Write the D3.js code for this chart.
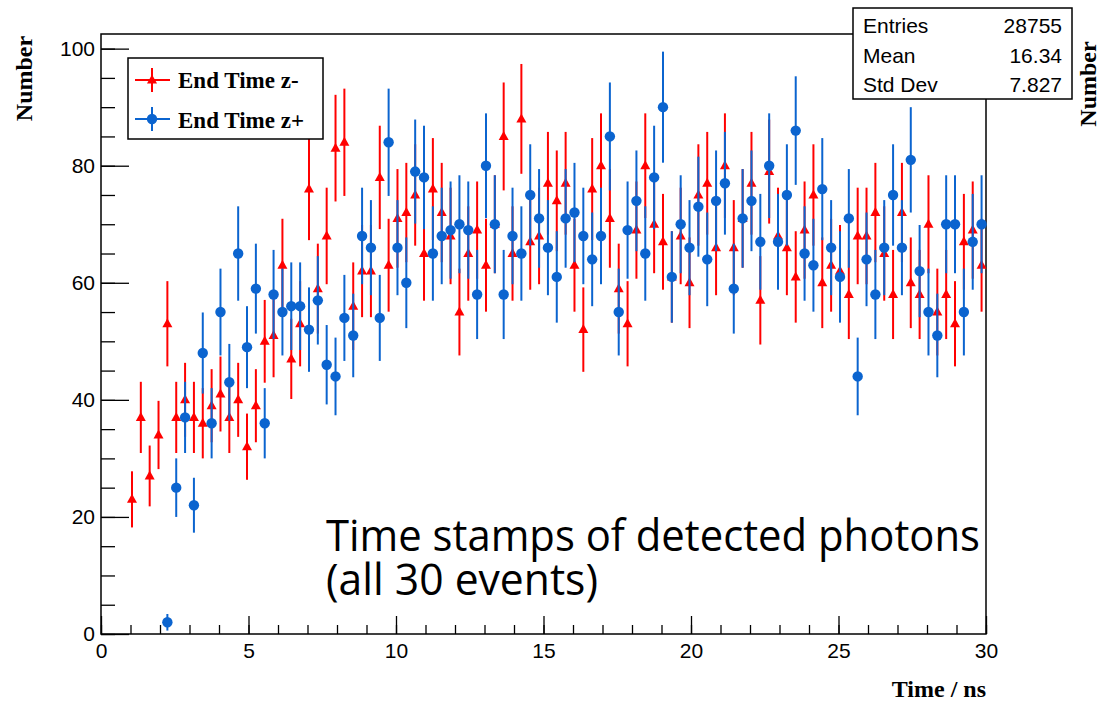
<!DOCTYPE html>
<html lang="en">
<head>
    <meta charset="UTF-8">
    <title>End Time z- / z+</title>
    <script src="https://d3js.org/d3.v7.min.js"></script>
    <style>
        body { margin: 0; background: #fff; }
    </style>
</head>
<body>
<script>
    const width  = 1104;
    const height = 702;

    // histogram: 100 bins of 0.3 ns from 0 to 30 ns
    const binWidth = 0.3;
    const xTicks   = [0, 5, 10, 15, 20, 25, 30];
    const yTicks   = [0, 20, 40, 60, 80, 100];

    const countsZminus = [0,0,0,23,37,27,34,53,37,40, 37,36,39,41,37,40,32,39,50,51,
                          63,47,53,76,59,68,83,84,56,62, 62,78,63,71,72,75,65,76,72,68,
                          55,65,69,63,70,85,65,88,67,68, 77,74,77,63,52,76,80,71,59,53,
                          69,80,70,67,61,68,60,75,77,66, 80,66,71,77,57,79,68,66,61,69,
                          75,60,63,62,58,68,68,72,65,58, 72,60,58,70,55,58,53,67,69,63];

    const countsZplus  = [0,0,0,0,0,0,0,2,25,37, 22,48,36,55,43,65,49,59,36,58,
                          55,56,56,52,57,46,44,54,51,68, 66,54,84,66,60,79,78,65,68,69,
                          70,69,58,80,70,58,68,65,75,71, 66,61,71,72,68,64,68,85,55,69,
                          74,65,78,90,61,70,66,73,64,74, 77,59,71,74,67,80,67,75,86,65,
                          63,76,66,61,71,44,64,58,66,75, 66,81,62,55,51,70,70,55,67,70];

    const legendLabels = ["End Time z-", "End Time z+"];
    const statNames    = ["Entries", "Mean", "Std Dev"];
    const statValues   = ["28755", "16.34", "7.827"];

    const red  = "#ff0000";
    const blue = "#0b64cf";

    const x = d3.scaleLinear().domain([0, 30]).range([101, 986]);
    const y = d3.scaleLinear().domain([0, 102.5]).range([634, 34]);

    const svg = d3.select("body")
            .append("svg")
            .attr("width", width)
            .attr("height", height)
            .style("font-family", "'Liberation Sans', Arial, sans-serif");

    // axes, ROOT style: ticks pointing into the frame
    const xMinor = svg.append("g")
            .attr("transform", "translate(0,634)")
            .call(d3.axisBottom(x).tickValues(d3.range(0, 31, 1)).tickSizeInner(-9).tickSizeOuter(0).tickFormat(""));
    const xAxis = svg.append("g")
            .attr("transform", "translate(0,634)")
            .call(d3.axisBottom(x).tickValues(xTicks).tickSizeInner(-18).tickSizeOuter(0).tickPadding(9));
    const yMinor = svg.append("g")
            .attr("transform", "translate(101,0)")
            .call(d3.axisLeft(y).tickValues(d3.range(0, 101, 5)).tickSizeInner(-14).tickSizeOuter(0).tickFormat(""));
    const yAxis = svg.append("g")
            .attr("transform", "translate(101,0)")
            .call(d3.axisLeft(y).tickValues(yTicks).tickSizeInner(-28).tickSizeOuter(0).tickPadding(6));

    [xMinor, xAxis, yMinor, yAxis].forEach(g => {
        g.select(".domain").remove();
        g.selectAll(".tick line").attr("stroke", "#000").attr("stroke-width", 1.3);
        g.selectAll(".tick text").attr("font-size", 21).attr("fill", "#000")
         .attr("font-family", "'Liberation Sans', Arial, sans-serif");
    });

    // frame
    svg.append("rect")
            .attr("x", 101).attr("y", 34)
            .attr("width", 885).attr("height", 600)
            .attr("fill", "none").attr("stroke", "#000").attr("stroke-width", 1.5);

    // big annotation
    svg.append("text")
            .attr("x", 326).attr("y", 551)
            .attr("font-family", "'Open Sans', sans-serif").attr("font-size", 43)
            .attr("textLength", 654).attr("lengthAdjust", "spacingAndGlyphs")
            .text("Time stamps of detected photons");
    svg.append("text")
            .attr("x", 326).attr("y", 595)
            .attr("font-family", "'Open Sans', sans-serif").attr("font-size", 43)
            .attr("textLength", 272).attr("lengthAdjust", "spacingAndGlyphs")
            .text("(all 30 events)");

    const bins = d => d.map((v, i) => ({t: (i + 0.5) * binWidth, n: v})).filter(d => d.n > 0);

    function drawSeries(counts, color, shape) {
        const g = svg.append("g");
        const pts = bins(counts);
        g.selectAll("line")
                .data(pts)
                .enter().append("line")
                .attr("x1", d => x(d.t)).attr("x2", d => x(d.t))
                .attr("y1", d => y(d.n - Math.sqrt(d.n)))
                .attr("y2", d => y(Math.min(d.n + Math.sqrt(d.n), 102.5)))
                .attr("stroke", color).attr("stroke-width", 2);
        g.selectAll("path")
                .data(pts)
                .enter().append("path")
                .attr("transform", d => "translate(" + [x(d.t), y(d.n)] + ")")
                .attr("d", shape)
                .attr("fill", color);
    }

    const triangle = "M0,-5.5L5,3.5L-5,3.5Z";
    const circle   = d3.symbol().type(d3.symbolCircle).size(Math.PI * 27)();

    drawSeries(countsZminus, red, triangle);
    drawSeries(countsZplus, blue, circle);

    // legend
    const legend = svg.append("g");
    legend.append("rect")
            .attr("x", 128).attr("y", 58)
            .attr("width", 195).attr("height", 81)
            .attr("fill", "#fff").attr("stroke", "#000").attr("stroke-width", 1.5);
    [[red, triangle], [blue, circle]].forEach((s, i) => {
        const cy = 80 + i * 39;
        legend.append("line").attr("x1", 135).attr("x2", 170).attr("y1", cy).attr("y2", cy)
                .attr("stroke", s[0]).attr("stroke-width", 2);
        legend.append("line").attr("x1", 152).attr("x2", 152).attr("y1", cy - 12).attr("y2", cy + 12)
                .attr("stroke", s[0]).attr("stroke-width", 2);
        legend.append("path").attr("transform", "translate(152," + cy + ")")
                .attr("d", s[1]).attr("fill", s[0]);
        legend.append("text").attr("x", 178).attr("y", 88 + i * 40)
                .attr("font-family", "'Liberation Serif', 'Times New Roman', serif")
                .attr("font-weight", "bold").attr("font-size", 23)
                .text(legendLabels[i]);
    });

    // stats box
    const stats = svg.append("g");
    stats.append("rect")
            .attr("x", 853).attr("y", 8)
            .attr("width", 219).attr("height", 91)
            .attr("fill", "#fff").attr("stroke", "#000").attr("stroke-width", 1.5);
    statNames.forEach((s, i) => {
        stats.append("text").attr("x", 863).attr("y", 33 + i * 29.5)
                .attr("font-size", 21).text(s);
        stats.append("text").attr("x", 1062).attr("y", 33 + i * 29.5)
                .attr("font-size", 21).attr("text-anchor", "end").text(statValues[i]);
    });

    // axis titles
    const serifBold = g => g.attr("font-family", "'Liberation Serif', 'Times New Roman', serif")
                            .attr("font-weight", "bold");
    svg.append("text").call(serifBold)
            .attr("x", 986).attr("y", 697)
            .attr("font-size", 24).attr("text-anchor", "end")
            .text("Time / ns");
    svg.append("text").call(serifBold)
            .attr("transform", "translate(32,78.5) rotate(-90)")
            .attr("font-size", 24).attr("text-anchor", "middle")
            .text("Number");
    svg.append("text").call(serifBold)
            .attr("transform", "translate(1096,84) rotate(-90)")
            .attr("font-size", 24).attr("text-anchor", "middle")
            .text("Number");
</script>
</body>
</html>
